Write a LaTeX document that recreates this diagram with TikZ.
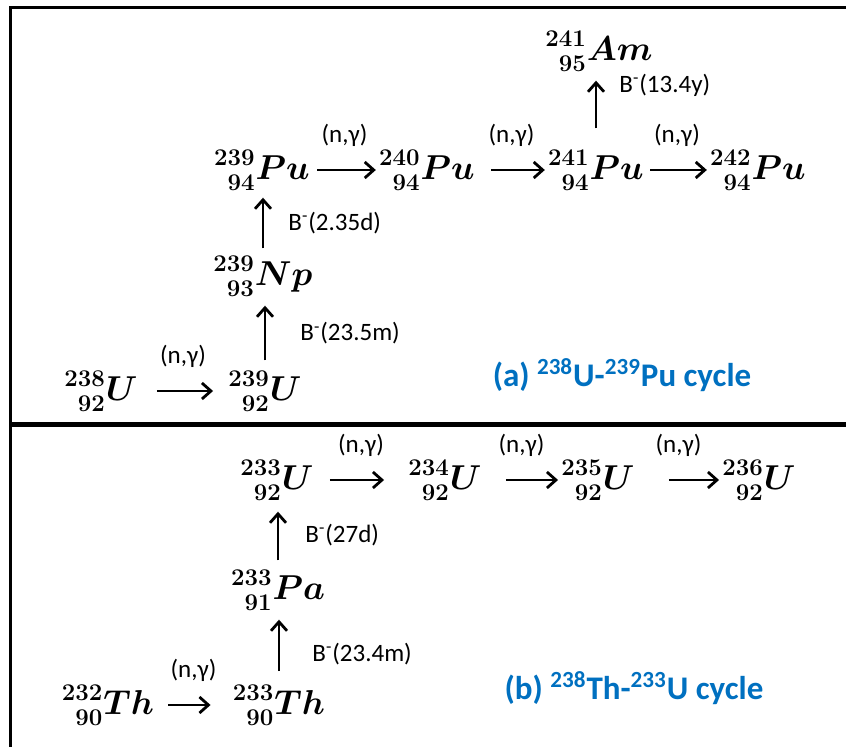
\documentclass[tikz,border=0pt]{standalone}
\usepackage{amsmath,mathtools}
\usepackage{fontspec}
\usepackage{tikz}
\usetikzlibrary{arrows.meta,positioning}
\usepackage{xcolor}
\newfontfamily\calibri{Carlito}
\definecolor{capblue}{HTML}{0070C0}
\DeclareMathSizes{17}{17}{12.5}{10}
\newcommand{\Iso}[3]{$\prescript{#1}{#2}{#3}$}
\newcommand{\Bm}{B\textsuperscript{-}}
\tikzset{
iso/.style={font=\fontsize{17}{20}\selectfont\boldmath, inner sep=1.5pt},
nlbl/.style={above=11pt, inner sep=0pt, font=\calibri\fontsize{12.5}{14}\selectfont},
blbl/.style={right=#1, inner sep=0pt, font=\calibri\fontsize{12.5}{14}\selectfont},
cyc/.style={font=\calibri\bfseries\fontsize{16.5}{19}\selectfont, text=capblue},
frame/.style={line width=1.5pt},
arr/.style={-{Straight Barb[length=4.5pt, width=8pt]}, line width=1.4pt}
}
\begin{document}
\begin{tikzpicture}[x=0.5pt, y=-0.5pt]
\useasboundingbox (0,0) rectangle (846,747);
\draw[frame] (10,747) -- (10,8) -- (846,8);
\draw[line width=2.5pt] (10,425) -- (846,425);
% (a) U-Pu chain
\node[iso] (am) at (599, 51) {\Iso{241}{95}{Am}};
\node[iso] (pu239) at (262,170) {\Iso{239}{94}{Pu}};
\node[iso] (pu240) at (427,170) {\Iso{240}{94}{Pu}};
\node[iso] (pu241) at (596,170) {\Iso{241}{94}{Pu}};
\node[iso] (pu242) at (758,170) {\Iso{242}{94}{Pu}};
\node[iso] (np) at (263,276) {\Iso{239}{93}{Np}};
\node[iso] (ua) at (101,391) {\Iso{238}{92}{U}};
\node[iso] (ub) at (265,391) {\Iso{239}{92}{U}};
\foreach \a/\b/\s/\e in {pu239/pu240/2pt/0pt, pu240/pu241/6.5pt/0pt, pu241/pu242/1.5pt/0pt, ua/ub/8pt/6pt}
\draw[arr, shorten <=\s, shorten >=\e] (\a.east) -- node[nlbl] {(n,γ)} (\a.east -| \b.west);
\draw[arr, shorten <=3.5pt, shorten >=3pt] (ub.north) -- node[blbl=17pt] {\Bm(23.5m)} (ub.north |- np.south);
\draw[arr, shorten <=2pt, shorten >=2pt] (np.north) -- node[blbl=12pt] {\Bm(2.35d)} (np.north |- pu239.south);
\draw[arr, shorten <=9pt, shorten >=3pt] (pu241.north) -- node[blbl=11pt, pos=0.85] {\Bm(13.4y)} (pu241.north |- am.south);
\node[cyc] (capa) at (622,375) {(a) \textsuperscript{238}U-\textsuperscript{239}Pu cycle};
% (b) Th-U chain
\node[iso] (u233) at (277,480) {\Iso{233}{92}{U}};
\node[iso] (u234) at (445,480) {\Iso{234}{92}{U}};
\node[iso] (u235) at (598,480) {\Iso{235}{92}{U}};
\node[iso] (u236) at (759,480) {\Iso{236}{92}{U}};
\node[iso] (pa) at (278,590) {\Iso{233}{91}{Pa}};
\node[iso] (tha) at (108,705) {\Iso{232}{90}{Th}};
\node[iso] (thb) at (279,705) {\Iso{233}{90}{Th}};
\foreach \a/\b/\s/\e in {u233/u234/6.5pt/10.5pt, u234/u235/10.5pt/0pt, u235/u236/15.5pt/0pt, tha/thb/5.5pt/9.5pt}
\draw[arr, shorten <=\s, shorten >=\e] (\a.east) -- node[nlbl] {(n,γ)} (\a.east -| \b.west);
\draw[arr, shorten <=5pt, shorten >=3pt] (thb.north) -- node[blbl=16pt, pos=0.4] {\Bm(23.4m)} (thb.north |- pa.south);
\draw[arr, shorten <=3pt, shorten >=4pt] (pa.north) -- node[blbl=13pt] {\Bm(27d)} (pa.north |- u233.south);
\node[cyc] (capb) at (634,688) {(b) \textsuperscript{238}Th-\textsuperscript{233}U cycle};
\end{tikzpicture}
\end{document}
